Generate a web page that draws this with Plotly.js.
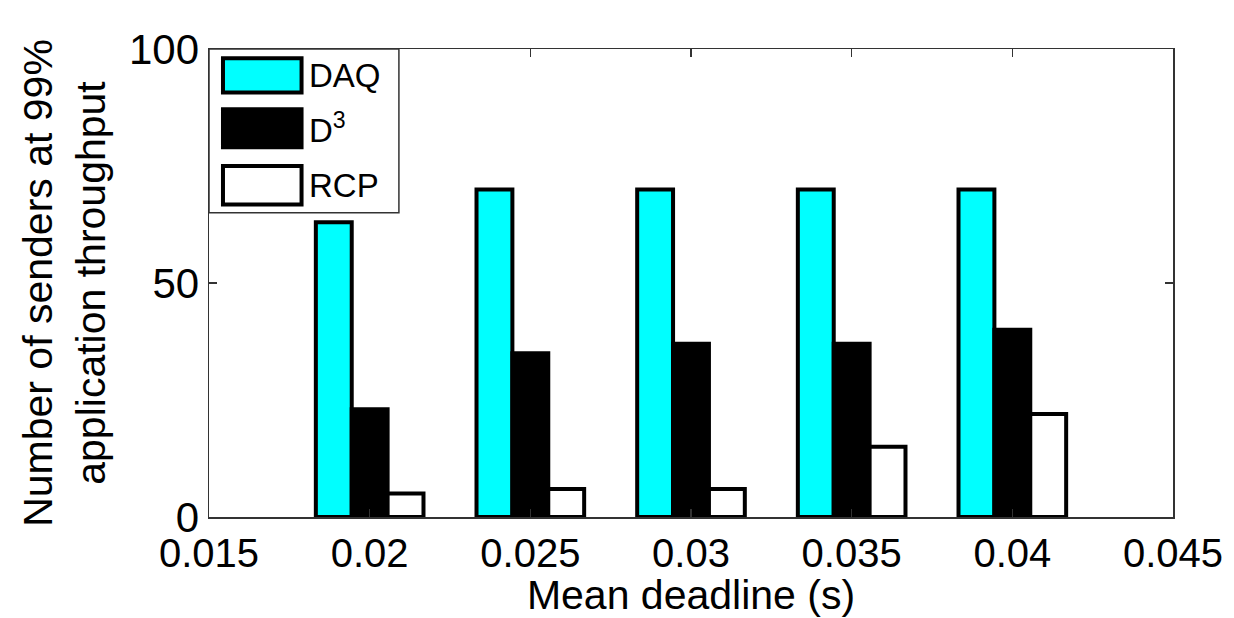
<!DOCTYPE html>
<html>
<head>
<meta charset="utf-8">
<script src="https://cdn.plot.ly/plotly-3.0.1.min.js"></script>
<style>html,body{margin:0;padding:0;background:#fff;}#chart{width:1234px;height:618px;}</style>
</head>
<body>
<div id="chart"></div>
<script>
const deadlines = [0.02, 0.025, 0.03, 0.035, 0.04];
const daq = [63, 70, 70, 70, 70];
const d3 = [23, 35, 37, 37, 40];
const rcp = [5, 6, 6, 15, 22];
const seriesNames = ['DAQ', 'D<sup>3</sup>', 'RCP'];
const seriesColors = ['#00FFFF', '#000000', '#FFFFFF'];
const xTicks = [0.015, 0.02, 0.025, 0.03, 0.035, 0.04, 0.045];
const xTickText = ['0.015', '0.02', '0.025', '0.03', '0.035', '0.04', '0.045'];
const yTicks = [0, 50, 100];

const font = 'Liberation Sans, Arial, Helvetica, sans-serif';
const values = [daq, d3, rcp];
const traces = values.map((v, i) => ({
  type: 'bar', x: deadlines, y: v, name: seriesNames[i],
  marker: {color: seriesColors[i], line: {color: '#000', width: 4}},
  showlegend: false
}));

// custom legend (box with large patches like the original)
const legShapes = [{type: 'rect', xref: 'paper', yref: 'paper', x0: 0, x1: 0.197, y0: 0.65, y1: 1,
  line: {color: '#333', width: 1.5}, fillcolor: '#fff', layer: 'above'}];
const legAnn = [];
const rows = [[0.98, 0.907], [0.871, 0.79], [0.75, 0.668]];
rows.forEach((r, i) => {
  legShapes.push({type: 'rect', xref: 'paper', yref: 'paper', x0: 0.0145, x1: 0.096, y0: r[1], y1: r[0],
    line: {color: '#000', width: 4}, fillcolor: seriesColors[i], layer: 'above'});
  legAnn.push({xref: 'paper', yref: 'paper', x: 0.102, y: (r[0] + r[1]) / 2, xanchor: 'left', yanchor: 'middle',
    text: seriesNames[i], showarrow: false, font: {family: font, size: 33, color: '#000'}});
});

const layout = {
  width: 1234, height: 618,
  margin: {l: 209, r: 61, t: 49, b: 101},
  paper_bgcolor: '#fff', plot_bgcolor: '#fff',
  barmode: 'group', bargap: 0.33, bargroupgap: 0,
  font: {family: font, color: '#000'},
  xaxis: {
    range: [0.015, 0.045], tickvals: xTicks, ticktext: xTickText,
    showgrid: false, zeroline: false, showline: true, mirror: 'ticks',
    linecolor: '#333', linewidth: 1.5, ticks: 'inside', ticklen: 8, tickcolor: '#333', tickwidth: 1.5,
    tickfont: {family: font, size: 40}, automargin: false,
    title: {text: 'Mean deadline (s)', font: {family: font, size: 41}, standoff: 10}
  },
  yaxis: {
    range: [0, 100], tickvals: yTicks,
    showgrid: false, zeroline: false, showline: true, mirror: 'ticks',
    linecolor: '#333', linewidth: 1.5, ticks: 'inside', ticklen: 8, tickcolor: '#333', tickwidth: 1.5,
    tickfont: {family: font, size: 42}, automargin: false,
    title: {text: 'Number of senders at 99%<br>application throughput', font: {family: font, size: 41}, standoff: 10}
  },
  shapes: legShapes,
  annotations: legAnn
};
Plotly.newPlot('chart', traces, layout, {displayModeBar: false, staticPlot: true});
</script>
</body>
</html>
